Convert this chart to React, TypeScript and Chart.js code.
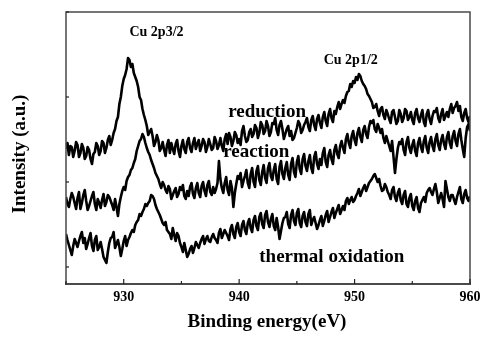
import { useEffect, useRef } from "react";
import { Chart, registerables } from "chart.js";

Chart.register(...registerables);

// Binding energy grid (eV): first point and spacing of the measurement
const energyStart = 925;
const energyStep = 0.125;

// Intensities (a.u.), 8 values per eV row (925.000 ... 959.875) then 960.000
const reduction = [
  118, 124, 112, 121, 120, 110, 116, 125,
  122, 110, 114, 123, 119, 108, 111, 120,
  117, 108, 103, 113, 115, 124, 121, 112,
  116, 126, 124, 114, 119, 127, 131, 122,
  127, 134, 138, 146, 150, 163, 170, 181,
  188, 192, 198, 209, 207, 200, 203, 194,
  190, 186, 180, 170, 167, 158, 152, 147,
  141, 132, 135, 138, 131, 121, 125, 132,
  127, 116, 119, 125, 117, 111, 122, 127,
  114, 124, 118, 113, 123, 127, 116, 110,
  121, 127, 118, 114, 125, 129, 119, 115,
  124, 129, 118, 123, 127, 116, 121, 128,
  125, 115, 120, 128, 123, 117, 119, 130,
  126, 118, 122, 129, 121, 116, 128, 133,
  123, 134, 130, 121, 126, 135, 132, 124,
  128, 122, 136, 141, 131, 125, 127, 135,
  138, 130, 133, 142, 139, 129, 134, 145,
  142, 133, 136, 146, 141, 131, 135, 144,
  143, 149, 137, 132, 142, 146, 138, 128,
  133, 138, 141, 131, 136, 127, 129, 134,
  139, 146, 143, 134, 137, 142, 145, 149,
  140, 136, 147, 151, 142, 137, 148, 152,
  144, 139, 150, 155, 146, 141, 153, 158,
  149, 145, 156, 153, 160, 165, 158, 163,
  167, 164, 171, 175, 176, 183, 180, 186,
  184, 190, 187, 193, 191, 186, 183, 181,
  178, 173, 171, 168, 165, 159, 160, 163,
  156, 151, 158, 160, 152, 148, 157, 153,
  148, 144, 155, 157, 150, 143, 146, 157,
  153, 145, 149, 158, 156, 147, 150, 155,
  147, 143, 154, 158, 149, 145, 152, 157,
  145, 141, 153, 157, 148, 143, 151, 156,
  155, 159, 149, 145, 153, 158, 147, 151,
  155, 150, 158, 163, 154, 159, 161, 165,
  156, 161, 150, 146, 154, 158, 149, 145,
  151,
];

const reaction = [
  70, 63, 60, 68, 74, 70, 64, 58,
  69, 75, 58, 64, 72, 77, 66, 57,
  61, 66, 71, 75, 63, 57, 68, 64,
  59, 67, 73, 61, 65, 72, 70, 66,
  62, 57, 68, 60, 51, 63, 70, 76,
  80, 77, 86, 90, 92, 97, 99, 104,
  108, 116, 121, 126, 128, 133, 130, 124,
  119, 115, 112, 107, 103, 99, 94, 91,
  88, 83, 79, 85, 82, 77, 74, 81,
  78, 68, 72, 76, 79, 70, 73, 80,
  77, 82, 71, 68, 76, 71, 80, 84,
  73, 69, 79, 84, 74, 70, 81, 85,
  76, 71, 82, 86, 75, 72, 80, 74,
  78, 84, 106, 88, 79, 74, 84, 90,
  77, 72, 86, 79, 60, 74, 83, 91,
  88, 94, 80, 86, 91, 97, 84, 79,
  93, 99, 85, 80, 96, 101, 87, 82,
  95, 102, 89, 84, 99, 104, 91, 87,
  97, 103, 88, 83, 100, 106, 93, 88,
  99, 105, 92, 87, 103, 109, 95, 90,
  105, 111, 98, 93, 108, 113, 101, 96,
  106, 112, 99, 94, 110, 115, 103, 98,
  108, 102, 114, 119, 105, 100, 112, 117,
  108, 103, 117, 122, 113, 109, 121, 126,
  119, 114, 128, 133, 124, 119, 131, 136,
  127, 122, 134, 139, 130, 125, 137, 141,
  133, 129, 140, 146, 144, 147, 138, 135,
  143, 139, 134, 138, 129, 124, 131, 126,
  121, 116, 126, 110, 94, 108, 119, 125,
  123, 128, 117, 112, 125, 130, 119, 114,
  122, 127, 116, 111, 124, 129, 120, 115,
  126, 131, 119, 114, 125, 130, 121, 116,
  128, 133, 122, 117, 127, 132, 123, 118,
  130, 135, 124, 119, 131, 136, 126, 121,
  133, 138, 127, 118, 110, 129, 140, 143,
  136,
];

const thermalOxidation = [
  33, 27, 22, 17, 12, 21, 28, 24,
  20, 26, 31, 35, 24, 29, 18, 23,
  29, 34, 21, 16, 27, 31, 17, 20,
  25, 18, 10, 7, 4, 15, 24, 29,
  30, 35, 19, 23, 27, 20, 11, 18,
  26, 31, 21, 27, 30, 34, 37, 35,
  42, 45, 47, 53, 51, 55, 58, 63,
  61, 64, 66, 72, 71, 68, 62, 58,
  55, 52, 48, 44, 42, 45, 37, 35,
  33, 28, 39, 32, 26, 34, 31, 24,
  20, 15, 24, 17, 10, 13, 18, 21,
  14, 19, 25, 22, 19, 24, 28, 31,
  23, 28, 31, 26, 25, 30, 33, 29,
  27, 24, 34, 38, 29, 33, 37, 34,
  31, 27, 38, 42, 33, 29, 40, 44,
  35, 31, 42, 46, 37, 33, 44, 48,
  39, 35, 47, 51, 41, 37, 50, 54,
  43, 39, 52, 56, 45, 40, 48, 53,
  41, 37, 49, 40, 28, 36, 44, 49,
  50, 55, 43, 39, 52, 57, 46, 42,
  54, 58, 44, 40, 51, 55, 45, 41,
  53, 57, 42, 47, 50, 44, 38, 42,
  47, 51, 41, 46, 52, 56, 45, 50,
  55, 59, 49, 54, 58, 62, 53, 57,
  61, 57, 66, 69, 63, 67, 70, 65,
  67, 71, 74, 78, 71, 75, 79, 82,
  76, 80, 84, 86, 88, 91, 93, 89,
  85, 88, 81, 76, 77, 83, 80, 75,
  72, 68, 77, 80, 70, 66, 74, 78,
  67, 63, 72, 76, 63, 60, 69, 73,
  61, 57, 66, 70, 59, 55, 64, 67,
  70, 65, 74, 77, 79, 75, 72, 78,
  83, 75, 64, 69, 74, 68, 60, 86,
  78, 70, 66, 72, 72, 67, 63, 70,
  75, 80, 68, 64, 73, 77, 69, 66,
  71,
];

const xMin = 925;
const xMax = 960;
const yMin = -17;
const yMax = 255;
const xMajorTicks = [930, 940, 950, 960];
const xMinorTicks = [925, 935, 945, 955];
const yTicks = [0, 85, 170, 255];

const xTitle = "Binding energy(eV)";
const yTitle = "Intensity (a.u.)";

// Text labels anchored in data coordinates (energy, intensity)
const labelTexts = ["Cu 2p3/2", "Cu 2p1/2", "reduction", "reaction", "thermal oxidation"];
const labelEnergies = [932.84, 949.67, 942.42, 941.48, 948.03];
const labelIntensities = [231, 203, 150.5, 110, 5.5];
const labelSizes = [14, 14, 19, 19, 19];

const toPoints = (vals: number[]) =>
  vals.map((v, i) => ({ x: energyStart + i * energyStep, y: v }));

const FONT = '"Liberation Serif", "Times New Roman", serif';

const overlay = {
  id: "overlay",
  afterDraw(chart: any) {
    const { ctx, chartArea } = chart;
    const xs = chart.scales.x;
    const ys = chart.scales.y;
    const { left, right, top, bottom } = chartArea;
    ctx.save();
    // frame
    ctx.strokeStyle = "#4a4a4a";
    ctx.lineWidth = 1.5;
    ctx.beginPath();
    ctx.moveTo(left, bottom);
    ctx.lineTo(left, top);
    ctx.lineTo(right, top);
    ctx.lineTo(right, bottom);
    ctx.stroke();
    ctx.lineWidth = 2;
    ctx.beginPath();
    ctx.moveTo(left - 1, bottom);
    ctx.lineTo(right + 1, bottom);
    ctx.stroke();
    // ticks (inward)
    ctx.strokeStyle = "#222";
    ctx.lineWidth = 1.2;
    for (const v of xMajorTicks) {
      const px = xs.getPixelForValue(v);
      ctx.beginPath();
      ctx.moveTo(px, bottom);
      ctx.lineTo(px, bottom - 5);
      ctx.stroke();
    }
    for (const v of xMinorTicks) {
      const px = xs.getPixelForValue(v);
      ctx.beginPath();
      ctx.moveTo(px, bottom);
      ctx.lineTo(px, bottom - 3);
      ctx.stroke();
    }
    for (const v of yTicks) {
      const py = ys.getPixelForValue(v);
      ctx.beginPath();
      ctx.moveTo(left, py);
      ctx.lineTo(left + 3, py);
      ctx.stroke();
    }
    // tick labels
    ctx.fillStyle = "#000";
    ctx.font = `bold 14px ${FONT}`;
    ctx.textAlign = "center";
    ctx.textBaseline = "alphabetic";
    for (const v of xMajorTicks) {
      ctx.fillText(String(v), xs.getPixelForValue(v), bottom + 17);
    }
    // axis titles
    ctx.font = `bold 19px ${FONT}`;
    ctx.fillText(xTitle, (left + right) / 2 - 1, bottom + 43);
    ctx.save();
    ctx.translate(25, (top + bottom) / 2 + 6);
    ctx.rotate(-Math.PI / 2);
    ctx.fillText(yTitle, 0, 0);
    ctx.restore();
    // annotations
    labelTexts.forEach((t, i) => {
      ctx.font = `bold ${labelSizes[i]}px ${FONT}`;
      ctx.fillText(t, xs.getPixelForValue(labelEnergies[i]), ys.getPixelForValue(labelIntensities[i]));
    });
    ctx.restore();
  },
};

export default function App() {
  const ref = useRef<HTMLCanvasElement | null>(null);
  useEffect(() => {
    if (!ref.current) return;
    const line = (label: string, data: number[]) => ({
      label,
      data: toPoints(data),
      borderColor: "#000",
      backgroundColor: "#000",
      borderWidth: 2.6,
      pointRadius: 0,
      tension: 0,
      borderJoinStyle: "round" as const,
      fill: false,
    });
    const chart = new Chart(ref.current, {
      type: "line",
      data: {
        datasets: [
          line("reduction", reduction),
          line("reaction", reaction),
          line("thermal oxidation", thermalOxidation),
        ],
      },
      options: {
        animation: false,
        responsive: false,
        layout: { padding: { left: 66, top: 12, right: 11, bottom: 57 } },
        plugins: { legend: { display: false }, tooltip: { enabled: false } },
        scales: {
          x: { type: "linear", min: xMin, max: xMax, display: false },
          y: { type: "linear", min: yMin, max: yMax, display: false },
        },
      },
      plugins: [overlay],
    });
    return () => chart.destroy();
  }, []);
  return (
    <div style={{ position: "fixed", left: 0, top: 0, width: 481, height: 341, background: "#fff" }}>
      <canvas ref={ref} width={481} height={341} style={{ display: "block" }} />
    </div>
  );
}
